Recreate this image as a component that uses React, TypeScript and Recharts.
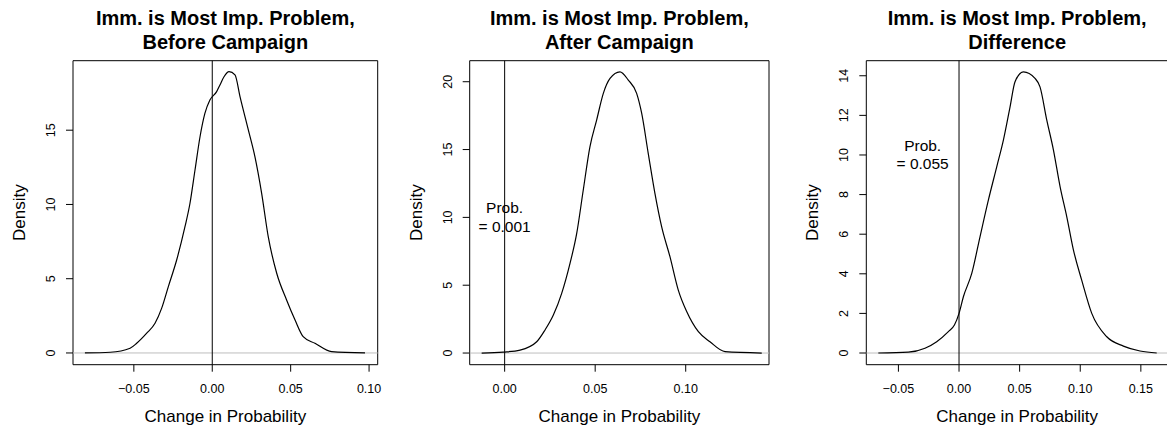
import { LineChart, Line, XAxis, YAxis, ReferenceLine, ReferenceArea, ReferenceDot, Customized } from "recharts"

const FONT = "'Liberation Sans', Arial, Helvetica, sans-serif"

// before campaign
const beforeX = [-0.0812, -0.0651, -0.0524, -0.0482, -0.0418, -0.0365, -0.0323, -0.028, -0.0227, -0.0174, -0.0142, -0.011, -0.0078, -0.0047, -0.0015, 0.0028, 0.0049, 0.0075, 0.0107, 0.0145, 0.0177, 0.023, 0.0272, 0.0315, 0.0357, 0.0411, 0.0474, 0.0528, 0.058, 0.0655, 0.0761, 0.0974]
const beforeDensity = [0, 0.05, 0.32, 0.65, 1.33, 2.0, 3.0, 4.47, 6.26, 8.5, 10.08, 12.32, 14.56, 16.13, 17.03, 17.6, 18.05, 18.6, 18.94, 18.72, 17.26, 15.02, 13.22, 10.75, 7.83, 5.37, 3.57, 2.22, 1.1, 0.65, 0.09, 0]
const beforeXTicks = [-0.05, 0, 0.05, 0.1]
const beforeYTicks = [0, 5, 10, 15]

// after campaign
const afterX = [-0.0127, -0.0008, 0.0085, 0.0177, 0.0223, 0.0269, 0.0315, 0.0361, 0.0398, 0.0434, 0.0471, 0.0508, 0.0545, 0.0582, 0.0637, 0.0683, 0.0729, 0.0757, 0.0793, 0.083, 0.0867, 0.0913, 0.0959, 0.1006, 0.107, 0.1134, 0.1217, 0.142]
const afterDensity = [0, 0.07, 0.22, 0.83, 1.7, 2.8, 4.4, 6.61, 8.82, 12.0, 15.2, 17.17, 19.14, 20.24, 20.73, 20.12, 19.14, 17.66, 14.72, 11.77, 9.31, 7.1, 4.64, 3.04, 1.57, 0.83, 0.1, 0]
const afterXTicks = [0, 0.05, 0.1]
const afterYTicks = [0, 5, 10, 15, 20]

// difference
const diffX = [-0.0666, -0.0418, -0.0281, -0.0184, -0.0088, -0.0038, 0, 0.0036, 0.0105, 0.0173, 0.0242, 0.0311, 0.0366, 0.0421, 0.0462, 0.0531, 0.0627, 0.0668, 0.0724, 0.0779, 0.0834, 0.0889, 0.0944, 0.1012, 0.1095, 0.1219, 0.1356, 0.1493, 0.1631]
const diffDensity = [0, 0.04, 0.24, 0.57, 1.08, 1.41, 2.0, 2.84, 4.02, 5.87, 7.72, 9.4, 10.75, 12.43, 13.7, 14.2, 13.87, 13.44, 11.76, 10.25, 8.39, 6.88, 5.2, 3.68, 2.0, 0.82, 0.35, 0.1, 0]
const diffXTicks = [-0.05, 0, 0.05, 0.1, 0.15]
const diffYTicks = [0, 2, 4, 6, 8, 10, 12, 14]

const fmtX = (v: number) => (v < 0 ? "\u2212" : "") + Math.abs(v).toFixed(2)

const BOX_TOP = 60.7
const BOX_BOTTOM = 364.7
const H = 432

type PanelProps = {
  left: number
  width: number
  boxLeft: number
  boxRight: number
  xs: number[]
  ys: number[]
  xDomain: [number, number]
  yDomain: [number, number]
  xTicks: number[]
  yTicks: number[]
  title: string[]
  note?: { x: number; y: number; lines: string[] }
}

function Panel(props: PanelProps) {
  const { left, width, boxLeft, boxRight, xs, ys, xDomain, yDomain, xTicks, yTicks, title, note } = props
  const data = xs.map((x, i) => ({ x, y: ys[i] }))
  const yAxisW = boxLeft - left
  const cx = (boxLeft + boxRight) / 2 - left
  const cy = (BOX_TOP + BOX_BOTTOM) / 2
  const xAxisH = 30

  const Labels = () => (
    <g fontFamily={FONT} fill="#000">
      <text x={cx} y={25} textAnchor="middle" fontSize={20} fontWeight="bold">{title[0]}</text>
      <text x={cx} y={48.5} textAnchor="middle" fontSize={20} fontWeight="bold">{title[1]}</text>
      <text x={cx} y={421.5} textAnchor="middle" fontSize={17}>Change in Probability</text>
      <text x={yAxisW - 48} y={cy} textAnchor="middle" fontSize={17} transform={`rotate(-90, ${yAxisW - 48}, ${cy})`}>Density</text>
    </g>
  )

  return (
    <div style={{ position: "absolute", left, top: 0 }}>
      <LineChart
        width={width}
        height={H}
        data={data}
        margin={{ top: BOX_TOP, right: left + width - boxRight, bottom: H - BOX_BOTTOM - xAxisH, left: 0 }}
      >
        <XAxis
          dataKey="x"
          type="number"
          domain={xDomain}
          allowDataOverflow
          ticks={xTicks}
          height={xAxisH}
          axisLine={false}
          tickLine={{ stroke: "#000" }}
          tickSize={7}
          tickMargin={21}
          interval={0}
          tick={(p: any) => (
            <text x={p.x} y={p.y} textAnchor="middle" fontSize={12.5} fontFamily={FONT} fill="#000">
              {fmtX(p.payload.value)}
            </text>
          )}
        />
        <YAxis
          type="number"
          domain={yDomain}
          allowDataOverflow
          ticks={yTicks}
          width={yAxisW}
          axisLine={false}
          tickLine={{ stroke: "#000" }}
          tickSize={7}
          tickMargin={11}
          interval={0}
          tick={(p: any) => (
            <text
              x={p.x}
              y={p.y}
              textAnchor="middle"
              fontSize={12.5}
              fontFamily={FONT}
              fill="#000"
              transform={`rotate(-90, ${p.x}, ${p.y})`}
            >
              {p.payload.value}
            </text>
          )}
        />
        <ReferenceLine y={0} stroke="#bebebe" strokeWidth={1} />
        <ReferenceLine x={0} stroke="#000" strokeWidth={1} />
        <Line type="monotone" dataKey="y" stroke="#000" strokeWidth={1.2} dot={false} isAnimationActive={false} />
        <ReferenceArea
          x1={xDomain[0]}
          x2={xDomain[1]}
          y1={yDomain[0]}
          y2={yDomain[1]}
          fill="none"
          stroke="#000"
          strokeWidth={1}
          ifOverflow="visible"
        />
        {note && (
          <ReferenceDot
            x={note.x}
            y={note.y}
            r={0}
            ifOverflow="visible"
            shape={(p: any) => (
              <g fontFamily={FONT} fontSize={15.5} fill="#000">
                <text x={p.cx} y={p.cy - 4} textAnchor="middle">{note.lines[0]}</text>
                <text x={p.cx} y={p.cy + 14.5} textAnchor="middle">{note.lines[1]}</text>
              </g>
            )}
          />
        )}
        <Customized component={Labels} />
      </LineChart>
    </div>
  )
}

export default function App() {
  return (
    <div style={{ position: "absolute", left: 0, top: 0, width: 1167, height: H, overflow: "hidden", background: "#fff" }}>
      <Panel
        left={0}
        width={390}
        boxLeft={73}
        boxRight={377.7}
        xs={beforeX}
        ys={beforeDensity}
        xDomain={[-0.0888, 0.1055]}
        yDomain={[-0.79, 19.68]}
        xTicks={beforeXTicks}
        yTicks={beforeYTicks}
        title={["Imm. is Most Imp. Problem,", "Before Campaign"]}
      />
      <Panel
        left={390}
        width={390}
        boxLeft={469.7}
        boxRight={769}
        xs={afterX}
        ys={afterDensity}
        xDomain={[-0.0193, 0.146]}
        yDomain={[-0.86, 21.55]}
        xTicks={afterXTicks}
        yTicks={afterYTicks}
        title={["Imm. is Most Imp. Problem,", "After Campaign"]}
        note={{ x: 0, y: 10, lines: ["Prob.", "= 0.001"] }}
      />
      <Panel
        left={780}
        width={400}
        boxLeft={866.3}
        boxRight={1168}
        xs={diffX}
        ys={diffDensity}
        xDomain={[-0.0765, 0.1724]}
        yDomain={[-0.59, 14.76]}
        xTicks={diffXTicks}
        yTicks={diffYTicks}
        title={["Imm. is Most Imp. Problem,", "Difference"]}
        note={{ x: -0.03, y: 10, lines: ["Prob.", "= 0.055"] }}
      />
    </div>
  )
}
